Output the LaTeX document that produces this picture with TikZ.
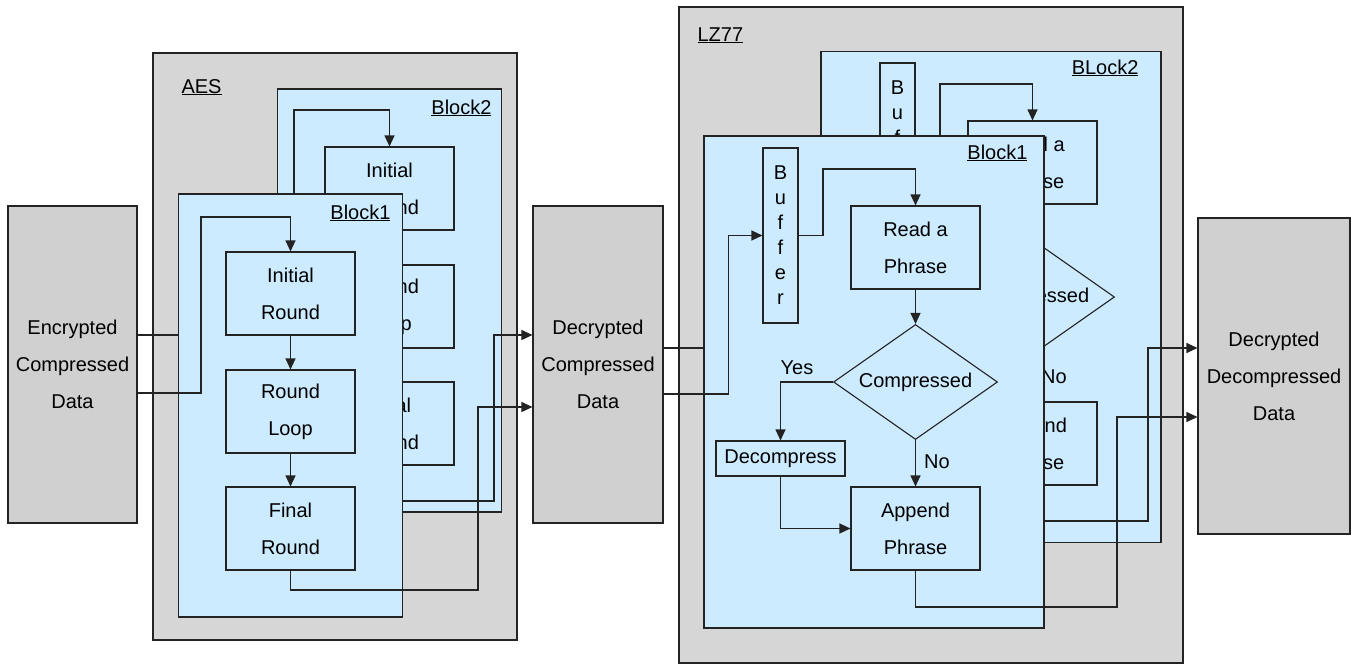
\documentclass[tikz,border=0pt]{standalone}
\usepackage{fontspec}
\setmainfont{Liberation Sans}
\usetikzlibrary{shapes.geometric}
\usetikzlibrary{arrows.meta}
\definecolor{framegray}{RGB}{214,214,214}
\definecolor{datagray}{RGB}{208,208,208}
\definecolor{blockblue}{RGB}{204,235,255}
\definecolor{linegray}{RGB}{35,35,35}

\begin{document}
\begin{tikzpicture}[x=1pt, y=-1pt, line width=1.1pt,
	every node/.style={font=\fontsize{20}{37}\selectfont, inner sep=0pt},
	databox/.style={draw=linegray, fill=datagray, align=center, minimum height=317pt},
	outerbox/.style={draw=linegray, fill=framegray},
	blockbox/.style={draw=linegray, fill=blockblue},
	stepbox/.style={draw=linegray, fill=blockblue, align=center, minimum width=129pt, minimum height=83pt},
	bufbox/.style={draw=linegray, fill=blockblue, align=center, minimum width=35pt, minimum height=175pt, font=\fontsize{20}{25}\selectfont},
	decision/.style={diamond, draw=linegray, fill=blockblue, aspect=1.43, minimum width=164pt, minimum height=115pt},
	flow/.style={draw=linegray, -{Triangle[length=11pt,width=10pt]}},
	wire/.style={draw=linegray},
	tag/.style={anchor=base east}]
				\useasboundingbox (0,0) rectangle (1351,664);
				
				% data
				\node[databox, minimum width=129pt] (enc) at (72.5,364.5) {Encrypted\\Compressed\\Data};
				\node[databox, minimum width=130pt] (dcd) at (598,364.5) {Decrypted\\Compressed\\Data};
				\node[databox, minimum width=152pt, minimum height=316pt] (ddd) at (1274,376) {Decrypted\\Decompressed\\Data};
				
				% AES
				\node[outerbox, minimum width=364pt, minimum height=587pt] (aes) at (335,346.5) {};
				\node[anchor=base west] at (181,93) {\underline{AES}};
				
				\begin{scope}[shift={(99,-105)}]
				\node[blockbox, minimum width=224pt, minimum height=423pt] (aesb2) at (290.5,405.5) {};
				\node[tag] at (393,219) {\underline{Block2}};
				\node[stepbox] (ini2) at (290.5,293.5) {Initial\\Round};
				\node[stepbox] (loop2) at (290.5,411.5) {Round\\Loop};
				\node[stepbox] (fin2) at (290.5,528.5) {Final\\Round};
				\draw[flow] (ini2) -- (loop2);
				\draw[flow] (loop2) -- (fin2);
				\end{scope}
				\draw[flow] (enc.east |- 0,335) -| (294,110) -| (ini2.north);
				\draw[flow] (fin2.south) |- (494,501) |- (dcd.west |- 0,335);
				
				\node[blockbox, minimum width=224pt, minimum height=423pt] (aesb1) at (290.5,405.5) {};
				\node[tag] at (391,219) {\underline{Block1}};
				\node[stepbox] (ini1) at (290.5,293.5) {Initial\\Round};
				\node[stepbox] (loop1) at (290.5,411.5) {Round\\Loop};
				\node[stepbox] (fin1) at (290.5,528.5) {Final\\Round};
				\draw[flow] (ini1) -- (loop1);
				\draw[flow] (loop1) -- (fin1);
				\draw[flow] (enc.east |- 0,393) -| (201,217) -| (ini1.north);
				\draw[flow] (fin1.south) |- (478,590) |- (dcd.west |- 0,407);
				
				% LZ77
				\node[outerbox, minimum width=504pt, minimum height=656pt] (lz) at (931,335) {};
				\node[anchor=base west] at (697,41) {\underline{LZ77}};
				
				\begin{scope}[shift={(117,-85)}]
				\node[blockbox, minimum width=340pt, minimum height=491pt] (lzb2) at (874,382) {};
				\node[tag] at (1022,159) {\underline{BLock2}};
				\node[bufbox] (buf2) at (780.5,235.5) {B\\u\\f\\f\\e\\r};
				\node[stepbox] (read2) at (915.5,247.5) {Read a\\Phrase};
				\node[decision] (cmp2) at (915.5,382) {Compressed};
				\node[stepbox, minimum height=35pt] (dec2) at (780.5,458.5) {Decompress};
				\node[stepbox] (app2) at (915.5,528.5) {Append\\Phrase};
				\node (yes2) at (797,368) {Yes};
				\node (no2) at (937,462) {No};
				\draw[flow] (buf2.east) -| (823,169) -| (read2.north);
				\draw[flow] (read2) -- (cmp2);
				\draw[flow] (cmp2.west) -| (dec2.north);
				\draw[flow] (cmp2) -- (app2);
				\draw[flow] (dec2.south) |- (app2.west);
				\end{scope}
				\draw[flow] (dcd.east |- 0,348) -| ([xshift=-34pt]buf2.west) -- (buf2.west);
				\draw[flow] (app2.south) |- (1148,521) |- (ddd.west |- 0,348);
				
				\node[blockbox, minimum width=340pt, minimum height=492pt] (lzb1) at (874,382) {};
				\node[tag] at (1028,159) {\underline{Block1}};
				\node[bufbox] (buf1) at (780.5,235.5) {B\\u\\f\\f\\e\\r};
				\node[stepbox] (read1) at (915.5,247.5) {Read a\\Phrase};
				\node[decision] (cmp1) at (915.5,382) {Compressed};
				\node[stepbox, minimum height=35pt] (dec1) at (780.5,458.5) {Decompress};
				\node[stepbox] (app1) at (915.5,528.5) {Append\\Phrase};
				\node (yes1) at (797,368) {Yes};
				\node (no1) at (937,462) {No};
				\draw[flow] (buf1.east) -| (823,169) -| (read1.north);
				\draw[flow] (read1) -- (cmp1);
				\draw[flow] (cmp1.west) -| (dec1.north);
				\draw[flow] (cmp1) -- (app1);
				\draw[flow] (dec1.south) |- (app1.west);
				\draw[flow] (dcd.east |- 0,394) -| ([xshift=-34pt]buf1.west) -- (buf1.west);
				\draw[flow] (app1.south) |- (1117,607) |- (ddd.west |- 0,417);
\end{tikzpicture}
\end{document}
